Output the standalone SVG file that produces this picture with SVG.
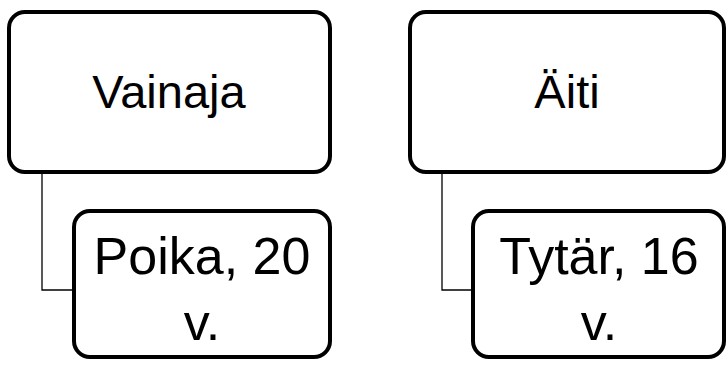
<svg xmlns="http://www.w3.org/2000/svg" width="726" height="369" viewBox="0 0 726 369">
<style>
.box{fill:#fff;stroke:#000;stroke-width:4}
.conn{fill:none;stroke:#000;stroke-width:1.3}
.t1{font-family:"Liberation Sans",Arial,sans-serif;font-size:47px;fill:#000;text-anchor:middle}
.t2{font-family:"Liberation Sans",Arial,sans-serif;font-size:52px;fill:#000;text-anchor:middle}
</style>
<rect width="726" height="369" fill="#fff"/>
<g id="connectors">
<path class="conn" d="M42 172 V290 H74"/>
<path class="conn" d="M442 172 V290 H473"/>
</g>
<g id="vainaja">
<rect class="box" x="9" y="12" width="321" height="160" rx="16"/>
<text class="t1" x="169" y="108">Vainaja</text>
</g>
<g id="poika">
<rect class="box" x="74" y="211" width="256" height="146" rx="16"/>
<text class="t2" x="202" y="274">Poika, 20</text>
<text class="t2" x="202" y="340">v.</text>
</g>
<g id="aiti">
<rect class="box" x="410" y="12" width="314" height="160" rx="16"/>
<text class="t1" x="567" y="108">Äiti</text>
</g>
<g id="tytar">
<rect class="box" x="473" y="211" width="251" height="146" rx="16"/>
<text class="t2" x="599" y="274">Tytär, 16</text>
<text class="t2" x="599" y="340">v.</text>
</g>
</svg>
